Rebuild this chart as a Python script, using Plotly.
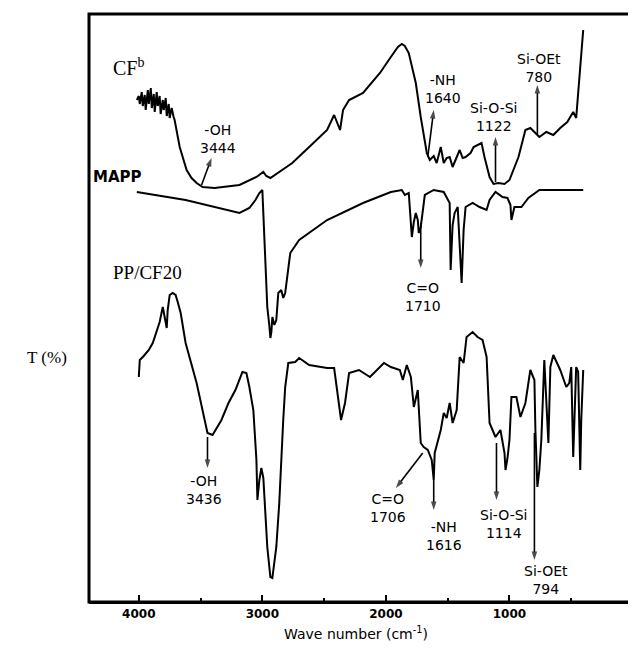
import plotly.graph_objects as go

# ---------------- data ----------------
cf_wn = [4016, 4000, 3992, 3976, 3968, 3952, 3944, 3927, 3919, 3903, 3895, 3879, 3871, 3855, 3847,
         3831, 3823, 3806, 3798, 3782, 3774, 3758, 3750, 3734, 3718,
         3710, 3669, 3613, 3573, 3532, 3484, 3387, 3185, 3048, 2992, 2968, 2935, 2758, 2621, 2476,
         2419, 2395, 2371, 2347, 2298, 2185, 2048, 1960, 1903, 1871, 1847, 1815, 1758, 1718, 1669,
         1645, 1613, 1589, 1556, 1532, 1508, 1484, 1460, 1403, 1379, 1355, 1315, 1290, 1226, 1202,
         1161, 1129, 1089, 1040, 1000, 927, 871, 831, 790, 758, 702, 645, 589, 532, 484, 460, 427, 403]
cf_t = [502, 506, 498, 510, 496, 507, 492, 512, 498, 514, 494, 508, 490, 510, 496,
        506, 488, 502, 492, 504, 486, 498, 484, 494, 485,
        482, 455, 432, 424, 419, 415, 414, 417, 425, 430, 426, 424, 439, 455, 472,
        487, 480, 472, 492, 502, 509, 529, 545, 555, 558, 556, 549, 519, 485, 449,
        442, 446, 439, 455, 439, 444, 445, 435, 452, 444, 445, 449, 455, 459, 445,
        425, 418, 419, 418, 422, 445, 472, 474, 469, 465, 470, 467, 474, 480, 490, 484, 535, 572]

mapp_wn = [4016, 3621, 3185, 3105, 3056, 3024, 3000, 2992, 2976, 2960, 2944, 2935, 2927, 2919, 2903,
           2887, 2871, 2847, 2831, 2815, 2774, 2702, 2476, 2185, 1960, 1871, 1847, 1815, 1798, 1790,
           1774, 1758, 1742, 1734, 1718, 1685, 1613, 1532, 1484, 1476, 1460, 1444, 1419, 1403, 1387,
           1371, 1355, 1298, 1242, 1185, 1161, 1113, 1056, 1016, 992, 984, 960, 903, 847, 758, 403]
mapp_t = [410, 402, 389, 394, 402, 409, 412, 387, 342, 295, 277, 264, 270, 285, 277,
          282, 309, 312, 304, 309, 349, 362, 382, 399, 410, 412, 407, 409, 379, 365,
          380, 389, 382, 369, 375, 407, 412, 410, 399, 332, 377, 389, 395, 362, 319,
          372, 395, 399, 395, 392, 402, 410, 405, 404, 397, 382, 395, 395, 404, 412, 412]

ppcf_wn = [4000, 3992, 3960, 3919, 3887, 3863, 3831, 3806, 3790, 3774, 3766, 3750, 3726, 3702, 3685,
           3661, 3621, 3532, 3444, 3403, 3331, 3274, 3218, 3161, 3129, 3105, 3073, 3048, 3040, 3024,
           3008, 2992, 2960, 2935, 2919, 2903, 2887, 2863, 2847, 2831, 2815, 2790, 2734, 2702, 2621,
           2540, 2476, 2419, 2387, 2363, 2331, 2298, 2218, 2129, 2016, 1960, 1887, 1863, 1831, 1798,
           1774, 1742, 1718, 1694, 1661, 1629, 1613, 1605, 1556, 1532, 1508, 1484, 1460, 1427, 1403,
           1371, 1347, 1298, 1258, 1218, 1185, 1161, 1113, 1089, 1073, 1040, 1032, 1016, 1000, 984,
           944, 911, 871, 831, 798, 790, 774, 758, 742, 718, 702, 685, 669, 645, 589,
           540, 516, 500, 484, 476, 460, 444, 427, 419, 403]
ppcf_t = [225, 242, 246, 252, 259, 269, 280, 295, 284, 274, 292, 307, 309, 307, 300,
          289, 259, 219, 169, 167, 182, 199, 212, 230, 229, 215, 192, 142, 102, 122,
          134, 124, 55, 25, 24, 37, 55, 99, 149, 182, 215, 239, 240, 244, 237,
          235, 234, 234, 205, 182, 199, 229, 232, 225, 239, 235, 232, 222, 237, 225,
          195, 212, 159, 155, 152, 142, 122, 149, 172, 189, 184, 199, 179, 192, 245,
          239, 265, 270, 265, 262, 245, 179, 165, 169, 172, 149, 132, 144, 162, 205,
          205, 185, 199, 232, 222, 172, 115, 132, 162, 242, 202, 159, 235, 247, 232,
          215, 219, 235, 145, 182, 235, 230, 132, 182, 232]

x_ticks = [4000, 3000, 2000, 1000, 0]

# peak labels: (text, text wn, text T, arrow tail wn, tail T, arrow head wn, head T)
peak_labels = [
    ("-OH<br>3444", 3355, 463, 3492, 417, 3411, 444),
    ("-NH<br>1640", 1540, 513, 1661, 445, 1613, 492),
    ("Si-O-Si<br>1122", 1129, 485, 1113, 420, 1113, 465),
    ("Si-OEt<br>780", 758, 534, 774, 467, 774, 517),
    ("C=O<br>1710", 1702, 305, 1718, 379, 1718, 334),
    ("-OH<br>3436", 3476, 112, 3444, 165, 3444, 134),
    ("C=O<br>1706", 1984, 94, 1702, 149, 1919, 114),
    ("-NH<br>1616", 1532, 66, 1613, 122, 1613, 92),
    ("Si-O-Si<br>1114", 1048, 78, 1105, 159, 1105, 102),
    ("Si-OEt<br>794", 702, 22, 798, 169, 798, 42),
]
series_labels = [
    ("CF<sup>b</sup>", 4081, 535, "Liberation Serif", 20, False),
    ("MAPP", 4169, 425, "DejaVu Sans", 15, True),
    ("PP/CF20", 3927, 330, "Liberation Serif", 19, False),
]

# ---------------- figure ----------------
fig = go.Figure()
for wn, t, name in [(cf_wn, cf_t, "CF"), (mapp_wn, mapp_t, "MAPP"), (ppcf_wn, ppcf_t, "PP/CF20")]:
    fig.add_trace(go.Scatter(x=wn, y=t, mode="lines", name=name,
                             line=dict(color="black", width=2)))

annotations = []
for text, tx, ty, sx, sy, hx, hy in peak_labels:
    # arrow: line from the band to the label, with an arrow marker at the label end
    fig.add_trace(go.Scatter(x=[sx, hx], y=[sy, hy], mode="lines+markers", hoverinfo="skip",
                             line=dict(color="black", width=1.6),
                             marker=dict(symbol=["circle", "arrow"], size=[0, 9],
                                         angleref="previous", color="black",
                                         line=dict(width=0))))
    annotations.append(dict(x=tx, y=ty, xref="x", yref="y", text=text, showarrow=False,
                            font=dict(family="DejaVu Sans", size=14, color="black"),
                            align="center"))
for text, tx, ty, fam, size, bold in series_labels:
    annotations.append(dict(x=tx, y=ty, xref="x", yref="y",
                            text=f"<b>{text}</b>" if bold else text, showarrow=False,
                            font=dict(family=fam, size=size, color="black")))
annotations.append(dict(x=-0.077, y=245, xref="paper", yref="y", text="T (%)", showarrow=False,
                        xanchor="center",
                        font=dict(family="Liberation Serif", size=17, color="black")))
annotations.append(dict(x=0.49, y=-0.052, xref="paper", yref="paper",
                        text="Wave number (cm<sup>-1</sup>)", showarrow=False,
                        yanchor="middle",
                        font=dict(family="DejaVu Sans", size=14, color="black")))

# the page body adds an 8px offset on each side, so the figure is sized to fit the window
fig.update_layout(
    width=628, height=635,
    margin=dict(l=81, r=2, t=6, b=41),
    paper_bgcolor="white", plot_bgcolor="white",
    showlegend=False,
    annotations=annotations,
    shapes=[dict(type="rect", xref="paper", yref="paper", x0=0, x1=1, y0=0, y1=1,
                 line=dict(color="black", width=3), layer="above")],
    xaxis=dict(range=[4403, -8], tickvals=x_ticks, ticktext=[f"<b>{v}</b>" for v in x_ticks],
               ticks="inside", ticklen=7, tickwidth=2, tickcolor="black",
               minor=dict(ticks="inside", ticklen=4, tickwidth=2, dtick=500, tickcolor="black"),
               showgrid=False, zeroline=False, showline=True, linecolor="black", linewidth=2,
               tickfont=dict(family="DejaVu Sans", size=12, color="black"),
               ticklabeloverflow="allow", automargin=False),
    yaxis=dict(range=[0, 588], showticklabels=False, ticks="", showgrid=False, zeroline=False,
               showline=False, automargin=False),
)

fig.write_html("out.html")
